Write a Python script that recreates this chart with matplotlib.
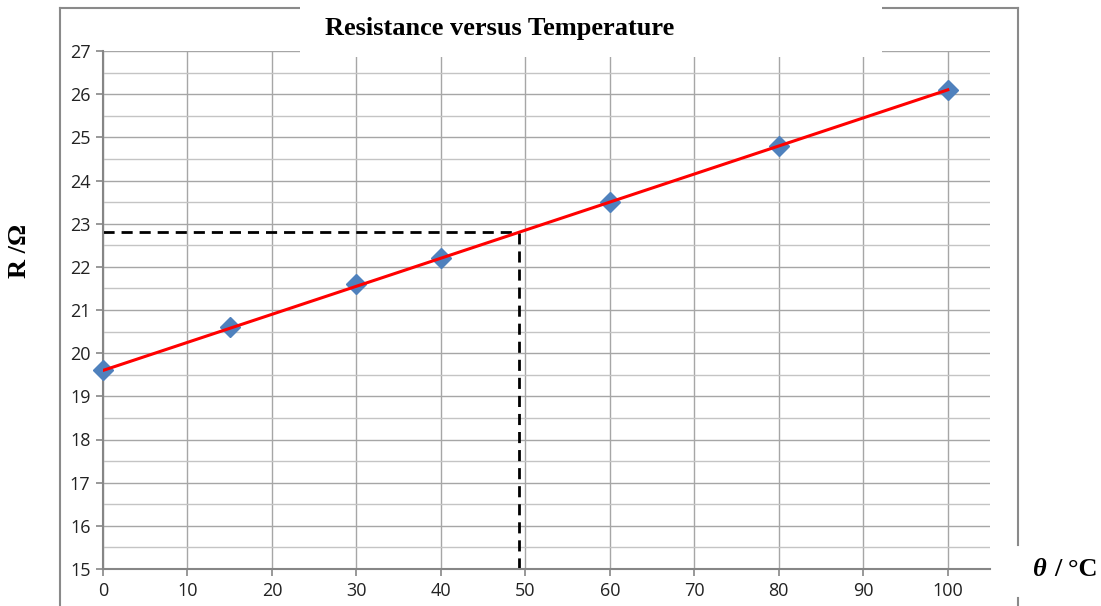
import matplotlib
matplotlib.use("Agg")
import matplotlib.pyplot as plt
from matplotlib.lines import Line2D
from matplotlib.patches import Rectangle
import numpy as np

temps = [0, 15, 30, 40, 60, 80, 100]
resist = [19.6, 20.6, 21.6, 22.2, 23.5, 24.8, 26.1]
fit_x = [0, 100]
fit_y = [19.6, 26.1]
read_x = 49.2
read_y = 22.8
xticks = [0, 10, 20, 30, 40, 50, 60, 70, 80, 90, 100]
yticks = list(range(15, 28))

W, H = 1101, 606
fig = plt.figure(figsize=(W / 100, H / 100), dpi=100)
ax = fig.add_axes([103 / W, 1 - 569 / H, (990 - 103) / W, (569 - 51) / H])

ax.set_xlim(0, 105)
ax.set_ylim(15, 27)
ax.set_xticks(xticks)
ax.set_yticks(yticks)
ax.set_yticks(np.arange(15.5, 27, 1.0), minor=True)
ax.grid(True, which='major', color='#a6a6a6', lw=1.0)
ax.grid(True, which='minor', axis='y', color='#c4c4c4', lw=1.0)
ax.tick_params(which='minor', length=0)
ax.tick_params(which='major', direction='out', length=5, color='#868686', width=1.2,
               labelsize=13, pad=4, labelcolor='#222222')
for t in ax.get_xticklabels() + ax.get_yticklabels():
    t.set_fontfamily('Open Sans')
for s in ['top', 'right']:
    ax.spines[s].set_visible(False)
for s in ['left', 'bottom']:
    ax.spines[s].set_color('#868686')
    ax.spines[s].set_linewidth(1.5)
ax.set_axisbelow(True)

ax.plot([0, read_x], [read_y, read_y], ls=(0, (4, 2.5)), color='black', lw=2.0, zorder=2)
ax.plot([read_x, read_x], [15, read_y], ls=(0, (4, 2.5)), color='black', lw=2.0, zorder=2)
ax.plot(temps, resist, ls='none', marker='D', markersize=10, color='#4f81bd', zorder=3,
        clip_on=False)
ax.plot(fit_x, fit_y, color='#ff0000', lw=2.2, zorder=4)

# outer chart border
bc = '#8a8a8a'
def fline(x0, y0, x1, y1):
    fig.add_artist(Line2D([x0 / W, x1 / W], [1 - y0 / H, 1 - y1 / H], color=bc, lw=1.5,
                          transform=fig.transFigure))
fline(60, 8, 60, 606)
fline(60, 8, 300, 8)
fline(882, 8, 1018, 8)
fline(1018, 8, 1018, 545)
fline(1018, 598, 1018, 606)

# white title box covering the top of the plot
fig.add_artist(Rectangle((300 / W, 1 - 57 / H), (882 - 300) / W, 57 / H,
                         facecolor='white', edgecolor='none', transform=fig.transFigure,
                         zorder=5))
fig.text(500 / W, 1 - 29 / H, 'Resistance versus Temperature', ha='center', va='center',
         fontsize=19, fontweight='bold', family='Liberation Serif', zorder=6)

fig.text(20 / W, 1 - 251 / H, 'R /Ω', rotation=90, ha='center', va='center',
         fontsize=19, fontweight='bold', family='Liberation Serif')
fig.text(1033 / W, 1 - 570 / H, 'θ', ha='left', va='center', fontsize=19,
         fontweight='bold', fontstyle='italic', family='Liberation Serif')
fig.text(1098 / W, 1 - 570 / H, '/ °C', ha='right', va='center', fontsize=19,
         fontweight='bold', family='Liberation Serif')

fig.savefig('out.png', dpi=100)
